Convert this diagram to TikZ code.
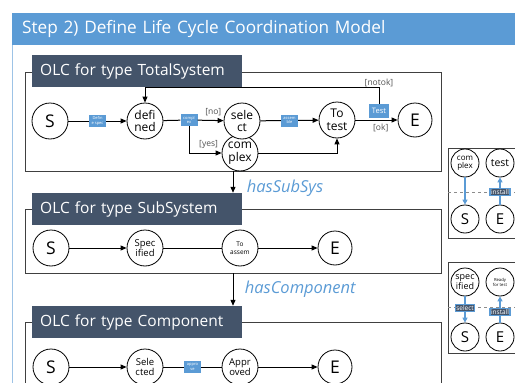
\documentclass[tikz,border=0pt]{standalone}
\usepackage{fontspec}
\setmainfont{Open Sans}
\usetikzlibrary{positioning, arrows.meta, calc}
\definecolor{olchead}{HTML}{5B9BD5}
\definecolor{olcdark}{HTML}{44546A}
\definecolor{olcline}{HTML}{404040}
\definecolor{olcgray}{HTML}{505050}
\definecolor{olcdash}{HTML}{8C8C8C}

\tikzset{
  state/.style={circle, draw=black, fill=white, line width=0.8pt,
                minimum size=36pt, inner sep=0pt, align=center,
                font=\fontsize{12}{12.5}\selectfont},
  bigstate/.style={state, font=\fontsize{17.5}{17.5}\selectfont},
  minstate/.style={circle, draw=black, fill=white, line width=0.8pt,
                   minimum size=28pt, inner sep=0pt, align=center,
                   font=\fontsize{9}{9}\selectfont},
  tag/.style={fill=olchead, text=white, inner sep=1pt, align=center,
              minimum width=17pt, minimum height=12pt,
              font=\fontsize{4}{4.2}\selectfont},
  darktag/.style={fill=olcdark, draw=olchead, text=white, inner sep=1pt,
                  font=\fontsize{6.5}{6.5}\selectfont},
  olctitle/.style={fill=olcdark, text=white, anchor=west, inner xsep=8pt,
                   minimum width=210pt, minimum height=32pt,
                   text width=194pt, font=\fontsize{15.5}{15.5}\selectfont},
  guard/.style={text=olcgray, inner sep=1pt, font=\fontsize{8.5}{8.5}\selectfont},
  rel/.style={text=olchead, font=\fontsize{16.5}{16.5}\selectfont\itshape, anchor=west},
  frame/.style={draw=olcline, line width=0.9pt},
  flow/.style={-{Triangle[length=6pt, width=5pt]}, line width=1pt},
  plain/.style={line width=1pt},
  bflow/.style={-{Triangle[length=5pt, width=5pt]}, draw=olchead, line width=1.2pt}
}

\begin{document}
\begin{tikzpicture}[x=1pt, y=-1pt]
  \useasboundingbox (0,0) rectangle (515,383);

  % header
  \node[fill=olchead, minimum width=503pt, minimum height=32pt, anchor=north west,
        inner xsep=10pt, text=white, font=\fontsize{17.2}{17.2}\selectfont,
        text width=483pt] (head) at (12,13) {Step 2) Define Life Cycle Coordination Model};
  \draw[draw=olchead!60, line width=0.8pt] (head.south west) -- (12,383);

  % frames
  \draw[frame] (25,72) rectangle (441,171);
  \draw[frame] (25,209) rectangle (441,273);
  \draw[frame] (25,390) -- (25,322) -- (441,322) -- (441,390);

  % OLC for type TotalSystem
  \node[bigstate] (ts-s) at (50,121) {S};
  \node[state] (ts-def) at (145,121) {defi\\ned};
  \node[state] (ts-cpx) at (240,153) {com\\plex};
  \node[state] (ts-sel) at (242,121) {sele\\ct};
  \node[state] (ts-tst) at (337,120) {To\\test};
  \node[bigstate, minimum size=34pt] (ts-e) at (415,120) {E};
  \node[tag] (t-cpx) at (189,120) {compl\\ex};
  \coordinate (ts-back) at (379,87);
  \coordinate (ts-tstc) at (379,111);

  \draw[flow] (ts-s) -- node[tag] (t-def) {Defin\\e spec} (ts-def);
  \draw[plain] (ts-def) -- (t-cpx);
  \draw[flow] (t-cpx) -- node[guard, pos=0.6, above=3pt] {[no]} (ts-sel);
  \draw[flow] (t-cpx) |- node[guard, pos=0.8, above=3pt] {[yes]} (ts-cpx);
  \draw[flow] (ts-sel) -- node[tag] (t-asm) {assem\\ble} (ts-tst);
  \draw[flow] (ts-cpx) -| (ts-tst);
  \draw[flow] (ts-tst) -- node[guard, pos=0.6, below=3pt] {[ok]} (ts-e);
  \draw[flow] (ts-tstc) -- (ts-back) -| (ts-def.north);
  \node[guard, above=-1pt] (g-notok) at (ts-back) {[notok]};
  \node[tag, font=\fontsize{7.5}{7.5}\selectfont, minimum width=20pt, minimum height=14pt]
        (t-tst) at (ts-tstc) {Test};

  \node[olctitle] (ot-total) at (32,71) {OLC for type TotalSystem};

  % OLC for type SubSystem
  \node[bigstate] (ss-s) at (51,248) {S};
  \node[state, font=\fontsize{9.5}{9.5}\selectfont] (ss-spec) at (145,248) {Spec\\ified};
  \node[state, font=\fontsize{6.5}{8}\selectfont] (ss-asm) at (240,248) {To\\assem};
  \node[bigstate, minimum size=34pt] (ss-e) at (335,248) {E};
  \draw[flow] (ss-s) -- (ss-spec);
  \draw[plain] (ss-spec) -- (ss-asm);
  \draw[flow] (ss-asm) -- (ss-e);

  \node[olctitle] (ot-sub) at (32,209) {OLC for type SubSystem};

  % OLC for type Component
  \node[bigstate] (cp-s) at (51,367) {S};
  \node[state, font=\fontsize{9.5}{9.5}\selectfont] (cp-sel) at (145,367) {Sele\\cted};
  \node[state, font=\fontsize{9.5}{9.5}\selectfont] (cp-app) at (240,367) {Appr\\oved};
  \node[bigstate, minimum size=34pt] (cp-e) at (335,367) {E};
  \draw[flow] (cp-s) -- (cp-sel);
  \draw[plain] (cp-sel) -- node[tag] (t-app) {appro\\ve} (cp-app);
  \draw[flow] (cp-app) -- (cp-e);

  \node[olctitle] (ot-comp) at (32,322) {OLC for type Component};

  % relations between the OLCs
  \coordinate (rel1) at (233,171);
  \coordinate (rel2) at (233,273);
  \draw[flow] (rel1) -- (rel1 |- ot-sub.north)
    node[rel, pos=0.8, right=10pt] {hasSubSys};
  \draw[flow] (rel2) -- (rel2 |- ot-comp.north)
    node[rel, pos=0.5, right=8pt] {hasComponent};

  % coordination panel: complex -> test
  \draw[frame] (520,148) -- (448,148) -- (448,238) -- (520,238);
  \draw[draw=olcdash, dashed, line width=0.6pt] (448,192) -- (515,192);
  \node[minstate, font=\fontsize{8}{8}\selectfont] (p1-cpx) at (465,163) {com\\plex};
  \node[minstate, font=\fontsize{10.5}{10}\selectfont] (p1-tst) at (500,163) {test};
  \node[minstate, font=\fontsize{15}{15}\selectfont] (p1-s) at (465,219) {S};
  \node[minstate, font=\fontsize{15}{15}\selectfont] (p1-e) at (500,219) {E};
  \draw[bflow] (p1-cpx) -- (p1-s);
  \draw[bflow] (p1-e) -- node[darktag, pos=0.45] (p1-ins) {install} (p1-tst);

  % coordination panel: specified -> ready for test
  \draw[frame] (520,262) -- (448,262) -- (448,353) -- (520,353);
  \draw[draw=olcdash, dashed, line width=0.6pt] (448,307) -- (515,307);
  \node[minstate] (p2-spec) at (465,282) {spec\\ified};
  \node[minstate, font=\fontsize{4.2}{5}\selectfont] (p2-rdy) at (500,282) {Ready\\for test};
  \node[minstate, font=\fontsize{15}{15}\selectfont] (p2-s) at (465,337) {S};
  \node[minstate, font=\fontsize{15}{15}\selectfont] (p2-e) at (500,337) {E};
  \draw[bflow] (p2-spec) -- node[darktag, pos=0.45] (p2-sel) {select} (p2-s);
  \draw[bflow] (p2-e) -- node[darktag, pos=0.4] (p2-ins) {install} (p2-rdy);
\end{tikzpicture}
\end{document}
